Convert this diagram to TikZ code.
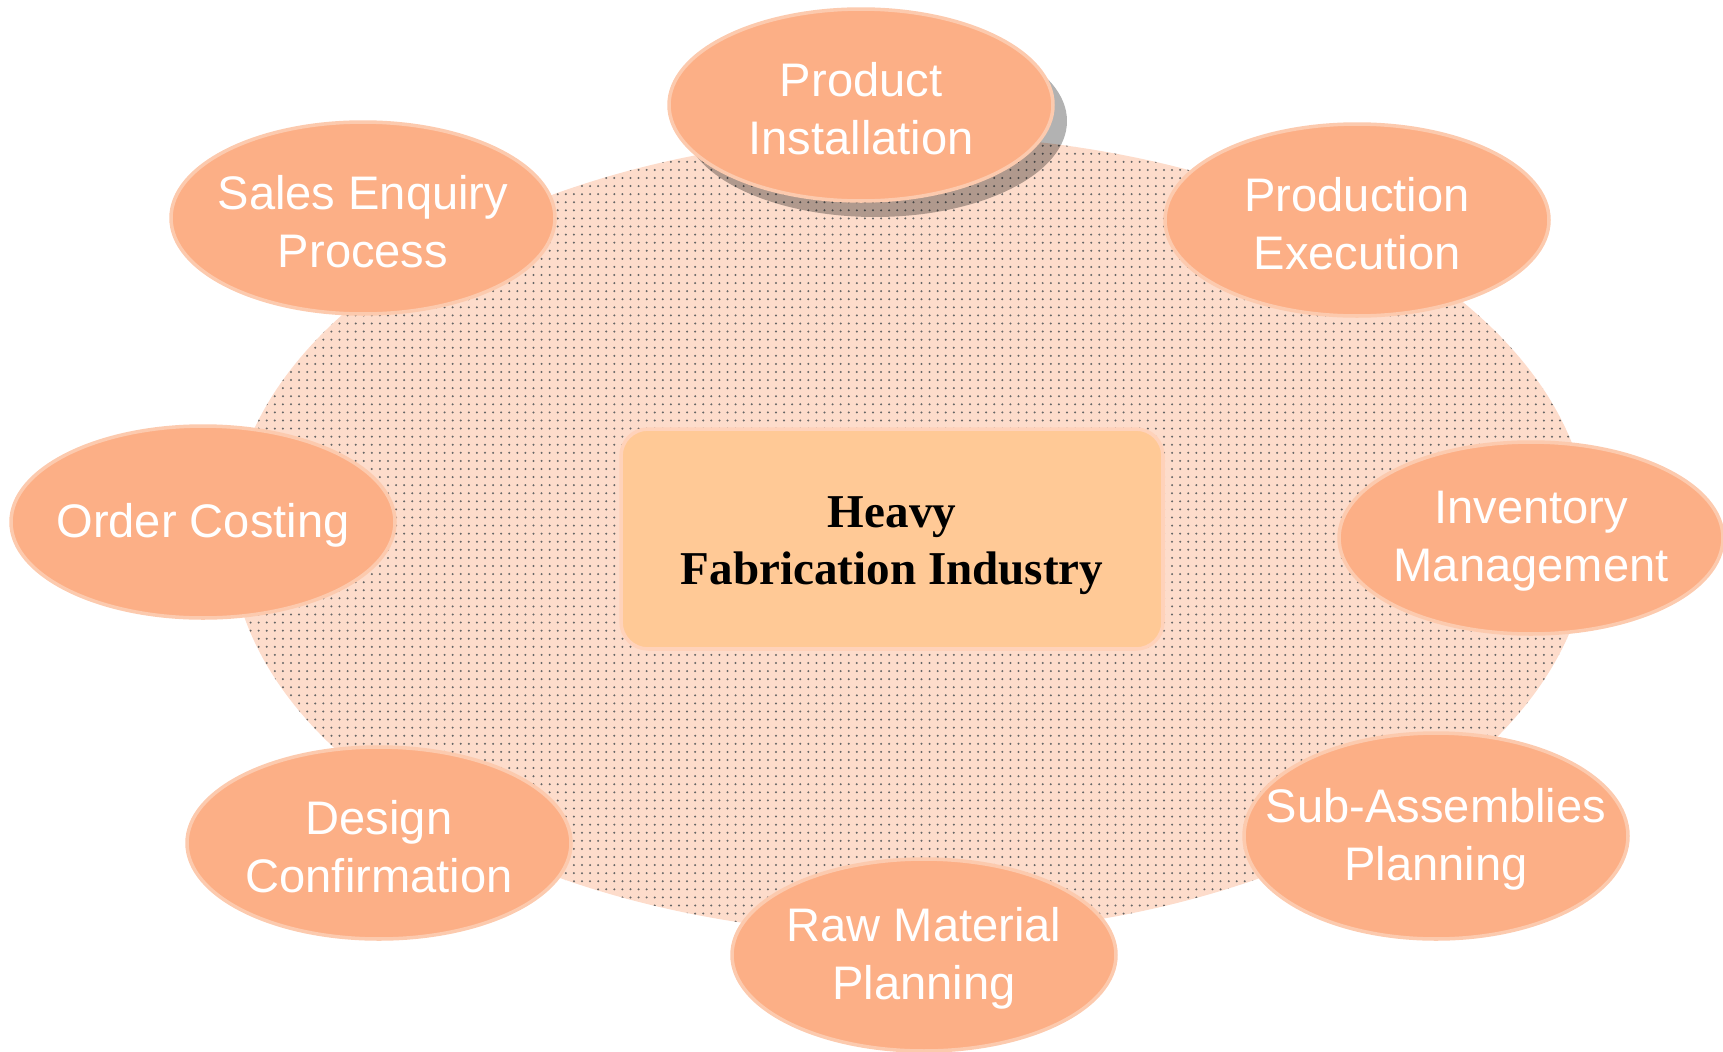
\documentclass[tikz,border=0pt]{standalone}
\usepackage{fontspec}
\setmainfont{Liberation Serif}
\setsansfont{Liberation Sans}
\usetikzlibrary{shapes.geometric, shadows, patterns.meta, positioning}

\definecolor{bgpeach}{HTML}{FDDCCB}
\definecolor{ovalfill}{HTML}{FCAF86}
\definecolor{ovalline}{HTML}{FCCAAE}
\definecolor{hubfill}{HTML}{FFC996}
\definecolor{hubline}{HTML}{FFD2BA}

\begin{document}
\begin{tikzpicture}[scale=0.1]
\tikzstyle{every node}+=[inner sep=0pt]
\tikzstyle{proc}=[ellipse, fill=ovalfill, draw=ovalline, line width=1pt, minimum width=3.84cm, minimum height=1.92cm]
\tikzstyle{proctext}=[align=center, text=white, yshift=-1pt, font=\sffamily\fontsize{13.4}{16.5}\selectfont]
\tikzstyle{hubbox}=[rectangle, rounded corners=0.27cm, fill=hubfill, draw=hubline, line width=1pt, minimum width=5.42cm, minimum height=2.2cm]
\tikzstyle{hubtext}=[align=center, yshift=-2pt, font=\bfseries\fontsize{13.4}{16.2}\selectfont]
\useasboundingbox (0,0) rectangle (172.3,-105.1);
% dotted backdrop
\fill [bgpeach] (91,-53.5) ellipse (68 and 40);
\fill [pattern={Dots[distance=2.3pt, radius=0.32pt]}, pattern color=black!60] (91,-53.5) ellipse (68 and 40);
% centre
\node [hubbox] (hub) at (89.2,-53.9) {};
\node [hubtext] (hub-t) at (hub) {Heavy\\Fabrication Industry};
% process ovals
\node [proc, drop shadow={shadow xshift=0.14cm, shadow yshift=-0.16cm, fill=black, opacity=0.3}] (prodinst) at (86.1,-10.5) {};
\node [proctext] (prodinst-t) at (prodinst) {Product\\Installation};
\node [proc] (salesenq) at (36.3,-21.8) {};
\node [proctext] (salesenq-t) at (salesenq) {Sales Enquiry\\Process};
\node [proc] (prodexec) at (135.7,-22) {};
\node [proctext] (prodexec-t) at (prodexec) {Production\\Execution};
\node [proc] (ordcost) at (20.3,-52.2) {};
\node [proctext] (ordcost-t) at (ordcost) {Order Costing};
\node [proc] (invmgmt) at (153.1,-53.8) {};
\node [proctext] (invmgmt-t) at (invmgmt) {Inventory\\Management};
\node [proc] (desconf) at (37.9,-84.3) {};
\node [proctext] (desconf-t) at (desconf) {Design\\Confirmation};
\node [proc, minimum height=2.06cm] (subasm) at (143.6,-83.6) {};
\node [proctext] (subasm-t) at (subasm) {Sub-Assemblies\\Planning};
\node [proc] (rawmat) at (92.4,-95.5) {};
\node [proctext] (rawmat-t) at (rawmat) {Raw Material\\Planning};
\end{tikzpicture}
\end{document}
